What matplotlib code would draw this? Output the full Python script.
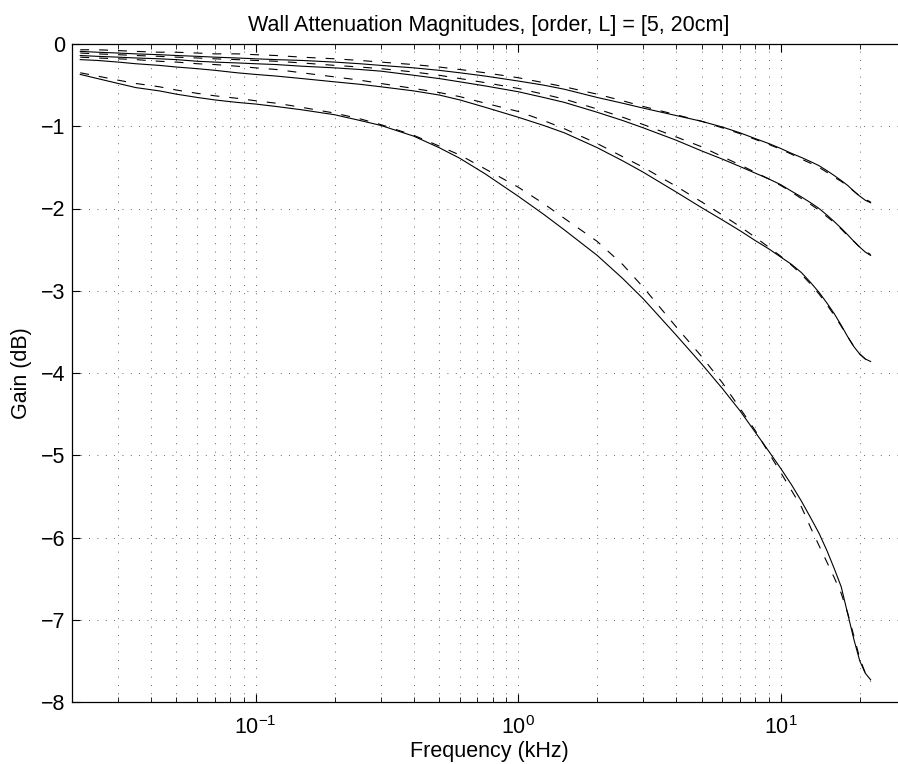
import matplotlib
matplotlib.use('Agg')
import matplotlib.pyplot as plt
from matplotlib.ticker import NullFormatter, LogLocator

plt.rcParams['font.family'] = ['Liberation Sans', 'DejaVu Sans']
plt.rcParams['mathtext.fontset'] = 'custom'
plt.rcParams['mathtext.rm'] = 'Liberation Sans'
plt.rcParams['mathtext.it'] = 'Liberation Sans'

# frecuencias (kHz)
freq = [0.0215, 0.025, 0.03, 0.035, 0.043, 0.05, 0.06, 0.07, 0.085, 0.1,
        0.12, 0.15, 0.2, 0.25, 0.3, 0.4, 0.5, 0.6, 0.75, 1, 1.25, 1.5, 2,
        2.5, 3, 4, 5, 6, 7, 8, 9, 10, 11, 12, 13, 14, 15, 16, 17, 18, 19,
        20, 21, 22]

# curvas medidas (linea continua)
s1 = [-0.09, -0.10, -0.11, -0.12, -0.13, -0.14, -0.15, -0.16, -0.17, -0.18,
      -0.19, -0.20, -0.22, -0.24, -0.26, -0.29, -0.32, -0.35, -0.39, -0.45,
      -0.50, -0.55, -0.65, -0.72, -0.78, -0.87, -0.94, -1.01, -1.08, -1.15,
      -1.21, -1.27, -1.33, -1.38, -1.43, -1.48, -1.54, -1.60, -1.66, -1.72,
      -1.79, -1.85, -1.90, -1.93]
s2 = [-0.14, -0.15, -0.16, -0.17, -0.18, -0.19, -0.21, -0.22, -0.23, -0.24,
      -0.25, -0.27, -0.29, -0.31, -0.33, -0.38, -0.42, -0.46, -0.51, -0.58,
      -0.65, -0.71, -0.83, -0.93, -1.02, -1.17, -1.30, -1.40, -1.49, -1.57,
      -1.64, -1.71, -1.79, -1.86, -1.93, -2.00, -2.08, -2.16, -2.24, -2.32,
      -2.40, -2.47, -2.53, -2.57]
s3 = [-0.19, -0.20, -0.22, -0.24, -0.26, -0.28, -0.30, -0.32, -0.35, -0.37,
      -0.39, -0.42, -0.46, -0.49, -0.52, -0.57, -0.62, -0.68, -0.77, -0.89,
      -0.99, -1.08, -1.26, -1.42, -1.56, -1.80, -1.99, -2.14, -2.27, -2.39,
      -2.49, -2.59, -2.68, -2.78, -2.90, -3.02, -3.15, -3.28, -3.42, -3.56,
      -3.68, -3.77, -3.83, -3.86]
s4 = [-0.37, -0.42, -0.48, -0.53, -0.57, -0.61, -0.65, -0.68, -0.71, -0.73,
      -0.76, -0.80, -0.86, -0.93, -0.99, -1.12, -1.26, -1.39, -1.58, -1.85,
      -2.07, -2.26, -2.57, -2.85, -3.10, -3.54, -3.89, -4.19, -4.46, -4.72,
      -4.95, -5.16, -5.36, -5.56, -5.76, -5.95, -6.16, -6.38, -6.60, -6.93,
      -7.24, -7.50, -7.65, -7.73]

# curvas ajustadas (linea discontinua)
d1 = [-0.07, -0.07, -0.08, -0.09, -0.10, -0.10, -0.11, -0.12, -0.12, -0.13,
      -0.14, -0.16, -0.18, -0.20, -0.22, -0.25, -0.28, -0.31, -0.35, -0.41,
      -0.47, -0.52, -0.61, -0.69, -0.76, -0.86, -0.94, -1.02, -1.09, -1.16,
      -1.22, -1.28, -1.34, -1.40, -1.45, -1.50, -1.56, -1.62, -1.67, -1.73,
      -1.79, -1.85, -1.89, -1.92]
d2 = [-0.11, -0.12, -0.13, -0.14, -0.15, -0.16, -0.17, -0.18, -0.19, -0.20,
      -0.21, -0.23, -0.26, -0.28, -0.30, -0.34, -0.38, -0.42, -0.47, -0.54,
      -0.61, -0.67, -0.79, -0.89, -0.98, -1.13, -1.25, -1.37, -1.47, -1.56,
      -1.64, -1.72, -1.80, -1.88, -1.95, -2.02, -2.10, -2.17, -2.25, -2.33,
      -2.40, -2.47, -2.52, -2.56]
d3 = [-0.16, -0.17, -0.18, -0.19, -0.21, -0.22, -0.24, -0.25, -0.27, -0.29,
      -0.31, -0.35, -0.40, -0.44, -0.48, -0.54, -0.59, -0.64, -0.72, -0.82,
      -0.93, -1.03, -1.21, -1.37, -1.50, -1.73, -1.92, -2.08, -2.22, -2.35,
      -2.47, -2.58, -2.69, -2.80, -2.92, -3.04, -3.17, -3.30, -3.43, -3.56,
      -3.68, -3.77, -3.83, -3.87]
d4 = [-0.35, -0.39, -0.44, -0.48, -0.52, -0.56, -0.60, -0.63, -0.66, -0.69,
      -0.72, -0.77, -0.84, -0.91, -0.98, -1.11, -1.24, -1.35, -1.52, -1.74,
      -1.94, -2.12, -2.40, -2.68, -2.96, -3.44, -3.80, -4.12, -4.43, -4.70,
      -4.97, -5.21, -5.43, -5.63, -5.88, -6.10, -6.30, -6.49, -6.68, -6.92,
      -7.20, -7.47, -7.65, -7.75]

yticks = [-8, -7, -6, -5, -4, -3, -2, -1, 0]

fig = plt.figure(figsize=(8.98, 7.64), dpi=100)
ax = fig.add_axes([72 / 898, 62 / 764, 834 / 898, 658 / 764])

for s in [s1, s2, s3, s4]:
    ax.plot(freq, s, color='k', lw=0.8)
for d in [d1, d2, d3, d4]:
    ax.plot(freq, d, color='k', lw=0.8, dashes=(8, 9))

ax.set_xscale('log')
ax.set_xlim(0.02, 30)
ax.set_ylim(-8, 0)
ax.set_yticks(yticks)
ax.set_yticklabels(['\u2212%d' % abs(v) if v < 0 else '%d' % v for v in yticks])
ax.xaxis.set_minor_locator(LogLocator(base=10, subs=range(2, 10)))
ax.xaxis.set_minor_formatter(NullFormatter())

ax.grid(True, which='major', axis='both', color='0.2', lw=0.6, linestyle=(0, (1, 9)))
ax.grid(True, which='minor', axis='x', color='0.2', lw=0.6, linestyle=(0, (1, 9)))

ax.tick_params(which='both', direction='in', top=True, right=True, labelsize=15.5)
ax.tick_params(axis='y', pad=5)
ax.tick_params(axis='x', pad=10.5)
ax.tick_params(which='major', length=6, width=0.8)
ax.tick_params(which='minor', length=3.5, width=0.6)
for sp in ax.spines.values():
    sp.set_linewidth(0.9)

ax.set_xlabel('Frequency (kHz)', fontsize=15.5, labelpad=1)
ax.set_ylabel('Gain (dB)', fontsize=15.5, labelpad=6)
ax.set_title('Wall Attenuation Magnitudes, [order, L] = [5, 20cm]', fontsize=15.5, pad=9)

plt.savefig('out.png', dpi=100)
